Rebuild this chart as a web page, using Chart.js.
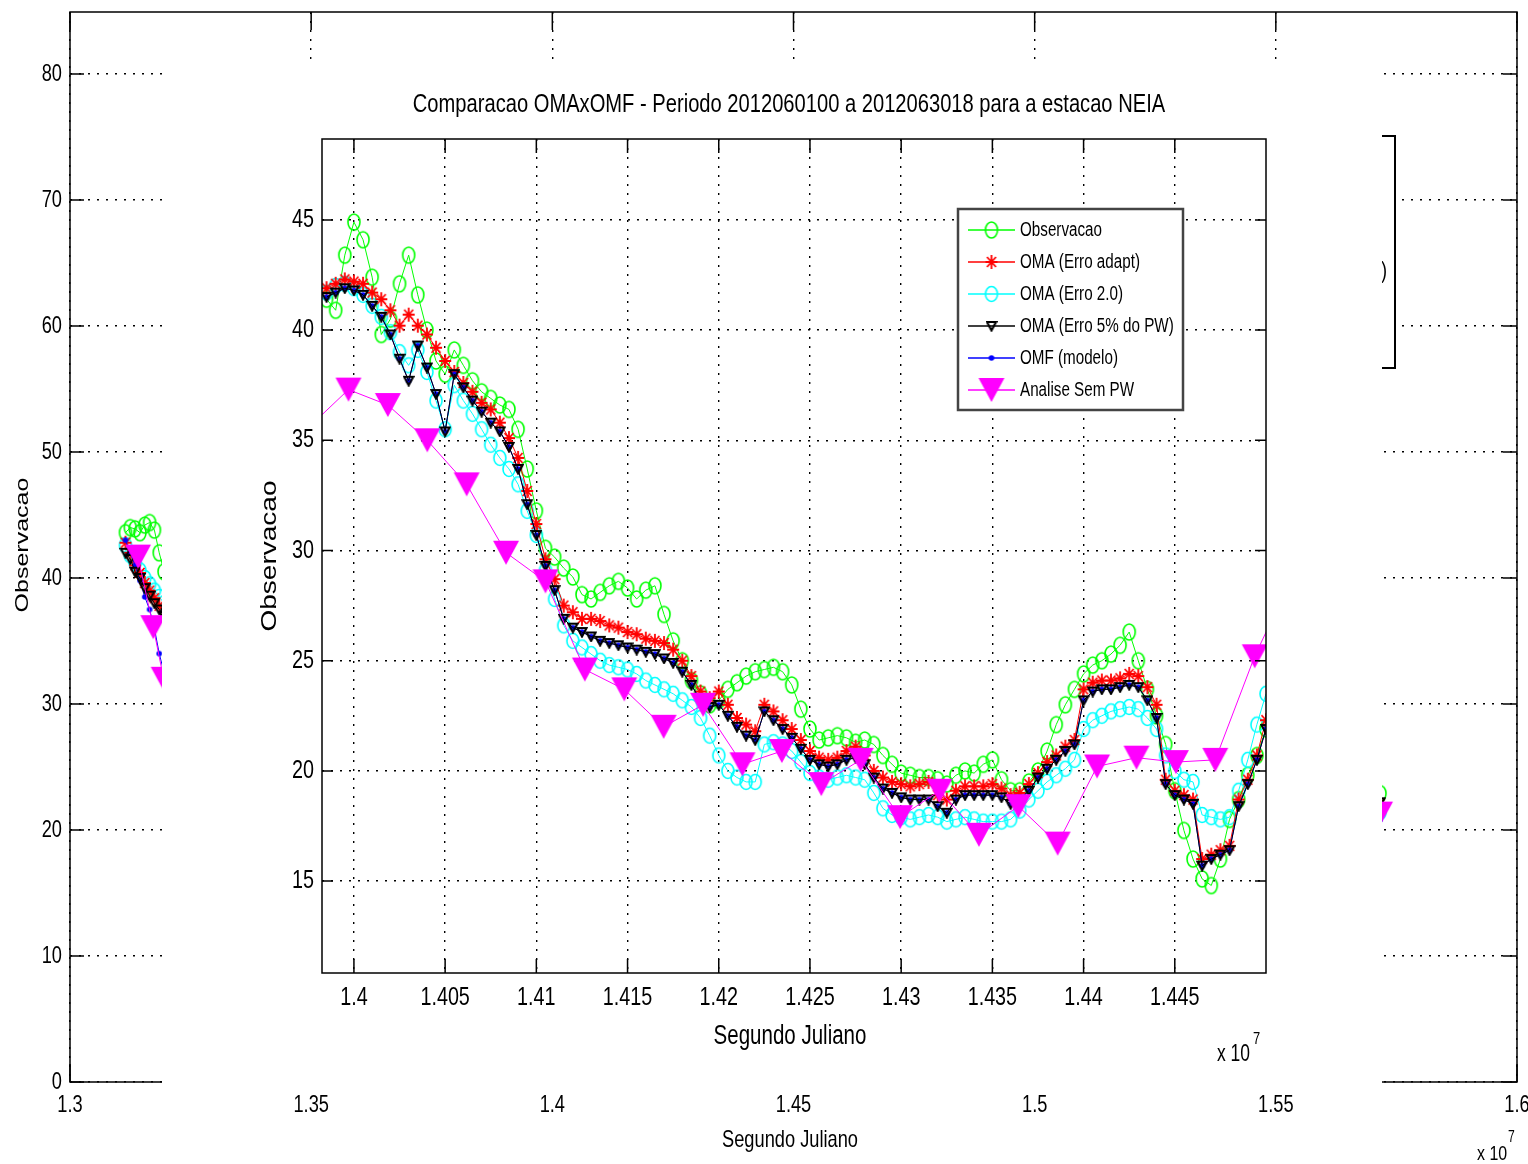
<!DOCTYPE html>
<html>
<head>
<meta charset="utf-8">
<script src="https://cdn.jsdelivr.net/npm/chart.js@4.4.1/dist/chart.umd.min.js"></script>
<style>
  html, body { margin: 0; padding: 0; background: #fff; }
  #wrap { position: relative; width: 1528px; height: 1164px; overflow: hidden; }
  #fundo { position: absolute; left: 0; top: 0; }
  #inset { position: absolute; left: 162px; top: 62px; background: #fff; }
</style>
</head>
<body>
<div id="wrap">
  <canvas id="fundo" width="1528" height="1164"></canvas>
  <canvas id="inset" width="1220" height="1024"></canvas>
</div>
<script>
// Segundo Juliano, em unidades de 1e7
const segundoJuliano = [
  1.3985, 1.3990, 1.3995, 1.4000, 1.4005, 1.4010, 1.4015, 1.4020, 1.4025, 1.4030,
  1.4035, 1.4040, 1.4045, 1.4050, 1.4055, 1.4060, 1.4065, 1.4070, 1.4075, 1.4080,
  1.4085, 1.4090, 1.4095, 1.4100, 1.4105, 1.4110, 1.4115, 1.4120, 1.4125, 1.4130,
  1.4135, 1.4140, 1.4145, 1.4150, 1.4155, 1.4160, 1.4165, 1.4170, 1.4175, 1.4180,
  1.4185, 1.4190, 1.4195, 1.4200, 1.4205, 1.4210, 1.4215, 1.4220, 1.4225, 1.4230,
  1.4235, 1.4240, 1.4245, 1.4250, 1.4255, 1.4260, 1.4265, 1.4270, 1.4275, 1.4280,
  1.4285, 1.4290, 1.4295, 1.4300, 1.4305, 1.4310, 1.4315, 1.4320, 1.4325, 1.4330,
  1.4335, 1.4340, 1.4345, 1.4350, 1.4355, 1.4360, 1.4365, 1.4370, 1.4375, 1.4380,
  1.4385, 1.4390, 1.4395, 1.4400, 1.4405, 1.4410, 1.4415, 1.4420, 1.4425, 1.4430,
  1.4435, 1.4440, 1.4445, 1.4450, 1.4455, 1.4460, 1.4465, 1.4470, 1.4475, 1.4480,
  1.4485, 1.4490, 1.4495, 1.4500
];
const observacao = [
  41.4, 40.9, 43.4, 44.9, 44.1, 42.4, 39.8, 40.5, 42.1, 43.4,
  41.6, 40.0, 38.6, 38.0, 39.1, 38.4, 37.7, 37.2, 36.9, 36.6,
  36.4, 35.5, 33.7, 31.8, 30.1, 29.7, 29.2, 28.8, 28.0, 27.8,
  28.1, 28.4, 28.6, 28.3, 27.8, 28.2, 28.4, 27.1, 25.9, 25.0,
  24.1, 23.5, 23.0, 23.2, 23.7, 24.0, 24.3, 24.5, 24.6, 24.7,
  24.5, 23.9, 22.8, 21.9, 21.4, 21.5, 21.6, 21.5, 21.3, 21.4,
  21.2, 20.7, 20.3, 19.9, 19.8, 19.7, 19.7, 19.6, 19.4, 19.8,
  20.0, 19.9, 20.3, 20.5, 19.6, 19.1, 19.1, 19.5, 20.0, 20.9,
  22.1, 23.0, 23.7, 24.4, 24.8, 25.0, 25.3, 25.7, 26.3, 25.0,
  23.7, 22.5, 21.2, 19.1, 17.3, 16.0, 15.1, 14.8, 16.0, 17.8,
  18.7, 19.8, 20.7, 21.9
];
const omaErroAdapt = [
  41.9, 42.1, 42.3, 42.2, 42.1, 41.7, 41.4, 40.9, 40.2, 40.7,
  40.2, 39.8, 39.2, 38.6, 38.1, 37.6, 37.2, 36.7, 36.4, 35.8,
  35.1, 34.2, 32.7, 31.2, 29.6, 28.7, 27.5, 27.2, 26.9, 26.9,
  26.8, 26.6, 26.5, 26.3, 26.2, 26.0, 25.9, 25.8, 25.5, 25.0,
  24.3, 23.6, 23.3, 23.6, 23.0, 22.4, 22.1, 21.8, 23.0, 22.7,
  22.3, 21.9, 21.4, 20.9, 20.6, 20.5, 20.6, 20.9, 21.1, 20.7,
  20.0, 19.7, 19.5, 19.4, 19.3, 19.4, 19.5, 18.9, 18.7, 19.1,
  19.3, 19.3, 19.3, 19.4, 19.2, 18.9, 19.0, 19.4, 19.9, 20.4,
  20.7, 21.1, 21.4, 23.7, 24.0, 24.1, 24.1, 24.2, 24.4, 24.3,
  23.8, 23.0, 19.6, 19.1, 18.9, 18.7, 16.0, 16.2, 16.4, 16.6,
  18.7, 19.6, 20.7, 22.3
];
const omaErro20 = [
  41.7, 42.0, 42.1, 41.9, 41.6, 41.1, 40.6, 39.9, 39.0, 38.4,
  39.1, 38.1, 36.8, 35.5, 37.5, 36.8, 36.2, 35.5, 34.8, 34.2,
  33.7, 33.0, 31.8, 30.7, 29.1, 27.8, 26.6, 25.9, 25.6, 25.3,
  25.0, 24.8, 24.7, 24.6, 24.4, 24.1, 23.9, 23.7, 23.5, 23.2,
  22.9, 22.4, 21.6, 20.7, 20.0, 19.7, 19.5, 19.5, 21.2, 21.3,
  21.2, 20.9, 20.4, 19.9, 19.7, 19.6, 19.7, 19.8, 19.7, 19.6,
  19.0, 18.3, 18.0, 17.9, 17.8, 17.9, 18.0, 17.9, 17.7, 17.8,
  17.9, 17.8, 17.7, 17.7, 17.7, 17.8, 18.2, 18.7, 19.1, 19.5,
  19.8, 20.1, 20.5, 21.9, 22.3, 22.5, 22.7, 22.8, 22.9, 22.8,
  22.4, 21.9, 20.7, 20.0, 19.6, 19.5, 18.0, 17.9, 17.8, 17.9,
  19.1, 20.5, 22.1, 23.5
];
const omaErro5pw = [
  41.5, 41.7, 41.9, 41.8, 41.6, 41.1, 40.6, 39.8, 38.7, 37.7,
  39.3, 38.3, 37.1, 35.4, 38.0, 37.4, 36.8, 36.3, 35.8, 35.4,
  34.7, 33.7, 32.1, 30.7, 29.3, 28.2, 26.9, 26.5, 26.3, 26.1,
  25.9, 25.8, 25.7, 25.6, 25.5, 25.4, 25.3, 25.1, 24.9, 24.5,
  23.9, 23.2, 22.9, 23.0, 22.5, 22.0, 21.6, 21.4, 22.7, 22.3,
  21.9, 21.5, 21.0, 20.5, 20.3, 20.2, 20.3, 20.5, 20.6, 20.3,
  19.7, 19.2, 19.0, 18.8, 18.7, 18.7, 18.7, 18.4, 18.1, 18.7,
  18.9, 18.9, 18.9, 18.9, 18.8, 18.5, 18.7, 19.1, 19.7, 20.1,
  20.5, 20.9, 21.2, 23.2, 23.6, 23.7, 23.7, 23.8, 23.9, 23.8,
  23.2, 22.4, 19.4, 18.9, 18.7, 18.5, 15.7, 16.0, 16.2, 16.4,
  18.4, 19.4, 20.5, 21.9
];
// OMF fica escondido por baixo da serie preta
const omfModelo = omaErro5pw.slice();

// analise a cada 6 horas
const analiseX = [
  1.39754, 1.39970, 1.40186, 1.40402, 1.40618, 1.40834, 1.41050, 1.41266, 1.41482,
  1.41698, 1.41914, 1.42130, 1.42346, 1.42562, 1.42778, 1.42994, 1.43210, 1.43426,
  1.43642, 1.43858, 1.44074, 1.44290, 1.44506, 1.44722, 1.44938, 1.45154
];
const analiseSemPW = [
  35.6, 37.3, 36.6, 35.0, 33.0, 29.9, 28.6, 24.6, 23.7,
  22.0, 23.0, 20.3, 20.9, 19.4, 20.5, 17.9, 19.1, 17.1,
  18.4, 16.7, 20.2, 20.6, 20.4, 20.5, 25.2, 29.0
];

// grafico de fundo (quase todo tapado pelo grafico menor)
const fundoX = [1.3115, 1.3125, 1.3135, 1.3145, 1.3155, 1.3165, 1.3175, 1.3185, 1.3195, 1.5716];
const fundoObs = [43.6, 44.0, 43.9, 43.6, 44.2, 44.4, 43.8, 42.0, 40.5, 22.9];
const fundoOmaAdapt = [42.8, 42.0, 41.0, 40.4, 39.6, 39.0, 38.4, 37.8, 37.3, 22.1];
const fundoOma20 = [42.6, 41.8, 41.2, 40.6, 40.0, 39.5, 39.0, 38.5, 38.0, 21.4];
const fundoOma5pw = [42.0, 41.5, 40.5, 40.0, 39.2, 38.6, 38.0, 37.5, 37.0, 22.2];
const fundoOmf = [43.0, 42.0, 41.0, 39.8, 38.5, 37.5, 36.0, 34.0, 32.5, 20.8];
const fundoAnaliseX = [1.3141, 1.31726, 1.31942, 1.5716];
const fundoAnalise = [41.7, 36.1, 32.0, 21.3];

const xTicksInset = [1.4, 1.405, 1.41, 1.415, 1.42, 1.425, 1.43, 1.435, 1.44, 1.445];
const xLabelsInset = ['1.4', '1.405', '1.41', '1.415', '1.42', '1.425', '1.43', '1.435', '1.44', '1.445'];
const yTicksInset = [15, 20, 25, 30, 35, 40, 45];
const xTicksFundo = [1.3, 1.35, 1.4, 1.45, 1.5, 1.55, 1.6];
const xLabelsFundo = ['1.3', '1.35', '1.4', '1.45', '1.5', '1.55', '1.6'];
const yTicksFundo = [0, 10, 20, 30, 40, 50, 60, 70, 80];

const nomesSeries = ['Observacao', 'OMA (Erro adapt)', 'OMA (Erro 2.0)', 'OMA (Erro 5% do PW)', 'OMF (modelo)', 'Analise Sem PW'];
const titulo = 'Comparacao OMAxOMF - Periodo 2012060100 a 2012063018 para a estacao NEIA';

const FONT = '"Liberation Sans", Arial, sans-serif';
const SX = 0.76;

function texto(ctx, s, x, y, size, align) {
  ctx.save();
  ctx.font = size + 'px ' + FONT;
  ctx.fillStyle = '#000';
  ctx.textAlign = align || 'center';
  ctx.textBaseline = 'middle';
  ctx.translate(x, y);
  ctx.scale(SX, 1);
  ctx.fillText(s, 0, 0);
  ctx.restore();
}

function textoVertical(ctx, s, x, y, size) {
  ctx.save();
  ctx.font = size + 'px ' + FONT;
  ctx.fillStyle = '#000';
  ctx.textAlign = 'center';
  ctx.textBaseline = 'middle';
  ctx.translate(x, y);
  ctx.rotate(-Math.PI / 2);
  ctx.scale(1, SX);
  ctx.fillText(s, 0, 0);
  ctx.restore();
}

// marcadores estilo matlab (um pouco mais altos que largos)
function marcador(w, h, desenha) {
  const c = document.createElement('canvas');
  c.width = w;
  c.height = h;
  desenha(c.getContext('2d'), w, h);
  return c;
}
const mkVerde = marcador(16, 20, (g, w, h) => {
  g.strokeStyle = '#00ff00'; g.lineWidth = 1.6;
  g.beginPath(); g.ellipse(w / 2, h / 2, 6, 8, 0, 0, 2 * Math.PI); g.stroke();
});
const mkCiano = marcador(16, 20, (g, w, h) => {
  g.strokeStyle = '#00ffff'; g.lineWidth = 1.6;
  g.beginPath(); g.ellipse(w / 2, h / 2, 6, 7.5, 0, 0, 2 * Math.PI); g.stroke();
});
const mkVermelho = marcador(14, 16, (g) => {
  g.strokeStyle = '#ff0000'; g.lineWidth = 1.8;
  g.beginPath();
  g.moveTo(7, 1); g.lineTo(7, 15);
  g.moveTo(1, 8); g.lineTo(13, 8);
  g.moveTo(2.5, 3); g.lineTo(11.5, 13);
  g.moveTo(11.5, 3); g.lineTo(2.5, 13);
  g.stroke();
});
const mkPreto = marcador(12, 12, (g) => {
  g.strokeStyle = '#000'; g.lineWidth = 2.1;
  g.beginPath(); g.moveTo(1.5, 2); g.lineTo(10.5, 2); g.lineTo(6, 10.5); g.closePath(); g.stroke();
});
const mkAzul = marcador(8, 8, (g) => {
  g.fillStyle = '#0000ff';
  g.beginPath(); g.arc(4, 4, 2.8, 0, 2 * Math.PI); g.fill();
});
const mkMagenta = marcador(28, 26, (g) => {
  g.fillStyle = '#ff00ff';
  g.beginPath(); g.moveTo(1, 1); g.lineTo(27, 1); g.lineTo(14, 25); g.closePath(); g.fill();
});

const cores = ['#00ff00', '#ff0000', '#00ffff', '#000000', '#0000ff', '#ff00ff'];
const marcas = [mkVerde, mkVermelho, mkCiano, mkPreto, mkAzul, mkMagenta];
const ordens = [5, 3, 4, 1, 2, 0];

function serie(i, xs, ys) {
  return {
    label: nomesSeries[i],
    data: xs.map((x, k) => ({ x: x, y: ys[k] })),
    borderColor: cores[i],
    backgroundColor: cores[i],
    borderWidth: 1,
    pointStyle: marcas[i],
    pointRadius: 5,
    pointHoverRadius: 5,
    order: ordens[i],
    tension: 0,
    fill: false
  };
}

function eixos(cfg) {
  return {
    id: 'eixos',
    afterDraw(chart) {
      const ctx = chart.ctx;
      const a = chart.chartArea;
      const sx = chart.scales.x;
      const sy = chart.scales.y;
      ctx.save();
      ctx.strokeStyle = '#000';
      ctx.lineWidth = 1.5;
      ctx.beginPath();
      cfg.xTicks.forEach(v => {
        const p = sx.getPixelForValue(v);
        ctx.moveTo(p, a.bottom); ctx.lineTo(p, a.bottom - cfg.tickX);
        ctx.moveTo(p, a.top); ctx.lineTo(p, a.top + cfg.tickX);
      });
      cfg.yTicks.forEach(v => {
        const p = sy.getPixelForValue(v);
        ctx.moveTo(a.left, p); ctx.lineTo(a.left + cfg.tickY, p);
        ctx.moveTo(a.right, p); ctx.lineTo(a.right - cfg.tickY, p);
      });
      ctx.stroke();
      ctx.strokeRect(a.left, a.top, a.right - a.left, a.bottom - a.top);
      ctx.restore();
      cfg.xTicks.forEach((v, i) => texto(ctx, cfg.xLabels[i], sx.getPixelForValue(v), a.bottom + cfg.xGap, cfg.fs));
      cfg.yTicks.forEach(v => texto(ctx, String(v), a.left - cfg.yGap, sy.getPixelForValue(v), cfg.fs, 'right'));
    }
  };
}

function escalas(xmin, xmax, ymin, ymax, xTicks, yTicks) {
  const grade = { color: '#000', lineWidth: 1.4, drawTicks: false };
  return {
    x: {
      type: 'linear', min: xmin, max: xmax,
      afterBuildTicks: s => { s.ticks = xTicks.map(v => ({ value: v })); },
      afterFit: s => { s.height = 0; },
      ticks: { display: false },
      grid: grade,
      border: { display: false, dash: [2, 7] }
    },
    y: {
      type: 'linear', min: ymin, max: ymax,
      afterBuildTicks: s => { s.ticks = yTicks.map(v => ({ value: v })); },
      afterFit: s => { s.width = 0; },
      ticks: { display: false },
      grid: grade,
      border: { display: false, dash: [2, 7] }
    }
  };
}

// ---------- grafico de fundo ----------
const legendaFundo = {
  id: 'legendaFundo',
  afterDraw(chart) {
    const ctx = chart.ctx;
    ctx.save();
    ctx.fillStyle = '#fff';
    ctx.fillRect(1150, 136, 245, 232);
    ctx.strokeStyle = '#000';
    ctx.lineWidth = 2;
    ctx.strokeRect(1150, 136, 245, 232);
    ctx.font = '24px ' + FONT;
    const larg = ctx.measureText(nomesSeries[3]).width * SX;
    ctx.restore();
    nomesSeries.forEach((n, i) => texto(ctx, n, 1387 - larg, 155 + i * 38.7, 24, 'left'));
  }
};

const textosFundo = {
  id: 'textosFundo',
  afterDraw(chart) {
    const ctx = chart.ctx;
    textoVertical(ctx, 'Observacao', 23, 545, 25);
    texto(ctx, 'Segundo Juliano', 790, 1140, 24);
    texto(ctx, 'x 10', 1477, 1154, 21, 'left');
    texto(ctx, '7', 1508, 1138, 16, 'left');
  }
};

new Chart(document.getElementById('fundo'), {
  type: 'line',
  data: {
    datasets: [
      serie(0, fundoX, fundoObs),
      serie(1, fundoX, fundoOmaAdapt),
      serie(2, fundoX, fundoOma20),
      serie(3, fundoX, fundoOma5pw),
      serie(4, fundoX, fundoOmf),
      serie(5, fundoAnaliseX, fundoAnalise)
    ]
  },
  options: {
    responsive: false,
    animation: false,
    devicePixelRatio: 1,
    events: [],
    layout: { padding: { left: 70, right: 11, top: 12, bottom: 82 } },
    plugins: { legend: { display: false }, title: { display: false }, tooltip: { enabled: false } },
    scales: escalas(1.3, 1.6, 0, 84.92, xTicksFundo, yTicksFundo)
  },
  plugins: [
    eixos({ xTicks: xTicksFundo, xLabels: xLabelsFundo, yTicks: yTicksFundo, tickX: 18, tickY: 14, xGap: 23, yGap: 8, fs: 24 }),
    legendaFundo,
    textosFundo
  ]
});

// ---------- grafico principal ----------
const legendaInset = {
  id: 'legendaInset',
  afterDraw(chart) {
    const ctx = chart.ctx;
    const x0 = 796, y0 = 147, w = 225, h = 201;
    ctx.save();
    ctx.fillStyle = '#fff';
    ctx.fillRect(x0, y0, w, h);
    ctx.strokeStyle = '#444';
    ctx.lineWidth = 2.5;
    ctx.strokeRect(x0, y0, w, h);
    ctx.restore();
    nomesSeries.forEach((n, i) => {
      const y = 168 + i * 32;
      ctx.save();
      ctx.strokeStyle = cores[i];
      ctx.lineWidth = 1.5;
      ctx.beginPath();
      ctx.moveTo(806, y);
      ctx.lineTo(853, y);
      ctx.stroke();
      const m = marcas[i];
      ctx.drawImage(m, 829.5 - m.width / 2, y - m.height / 2);
      ctx.restore();
      texto(ctx, n, 858, y, 20, 'left');
    });
  }
};

const textosInset = {
  id: 'textosInset',
  afterDraw(chart) {
    const ctx = chart.ctx;
    texto(ctx, titulo, 627, 43, 26.5);
    texto(ctx, 'Segundo Juliano', 628, 975, 27);
    textoVertical(ctx, 'Observacao', 108, 494, 28);
    texto(ctx, 'x 10', 1055, 993, 23, 'left');
    texto(ctx, '7', 1091, 977, 17, 'left');
  }
};

new Chart(document.getElementById('inset'), {
  type: 'line',
  data: {
    datasets: [
      serie(0, segundoJuliano, observacao),
      serie(1, segundoJuliano, omaErroAdapt),
      serie(2, segundoJuliano, omaErro20),
      serie(3, segundoJuliano, omaErro5pw),
      serie(4, segundoJuliano, omfModelo),
      serie(5, analiseX, analiseSemPW)
    ]
  },
  options: {
    responsive: false,
    animation: false,
    devicePixelRatio: 1,
    events: [],
    layout: { padding: { left: 160, right: 116, top: 77, bottom: 113 } },
    plugins: { legend: { display: false }, title: { display: false }, tooltip: { enabled: false } },
    scales: escalas(1.39825, 1.45, 10.83, 48.67, xTicksInset, yTicksInset)
  },
  plugins: [
    eixos({ xTicks: xTicksInset, xLabels: xLabelsInset, yTicks: yTicksInset, tickX: 14, tickY: 11, xGap: 25, yGap: 8, fs: 26 }),
    legendaInset,
    textosInset
  ]
});
</script>
</body>
</html>
